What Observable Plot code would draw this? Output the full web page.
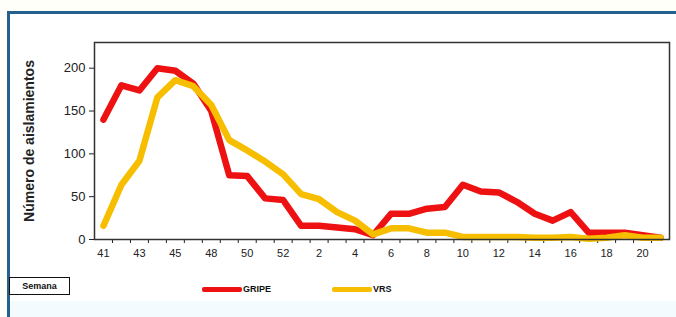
<!DOCTYPE html>
<html>
<head>
<meta charset="utf-8">
<script src="https://cdn.jsdelivr.net/npm/d3@7"></script>
<script src="https://cdn.jsdelivr.net/npm/@observablehq/plot@0.6"></script>
<style>
  html, body { margin: 0; padding: 0; }
  body { width: 676px; height: 317px; position: relative; overflow: hidden; background: #fffffa; font-family: "Liberation Sans", Arial, sans-serif; }
  #panel { position: absolute; left: 7px; top: 11px; width: 669px; height: 306px; background: #ffffff; border-left: 3px solid #24618f; border-top: 3px solid #24618f; box-sizing: border-box; }
  #band { position: absolute; left: 10px; top: 301px; width: 666px; height: 16px; background: #f3fbfe; }
  #chart { position: absolute; left: 0; top: 0; }
  #semana { position: absolute; left: 9px; top: 277px; width: 61px; height: 18px; border: 1px solid #111; box-sizing: border-box; font-size: 9px; font-weight: bold; line-height: 16px; text-align: center; color: #111; background: #fff; }
  .leg { position: absolute; top: 283px; height: 12px; display: flex; align-items: center; font-size: 9px; font-weight: bold; color: #111; }
  .leg span.sw { display: inline-block; width: 40px; height: 5px; margin-right: 1px; border-radius: 2px; }
</style>
</head>
<body>
<div id="panel"></div>
<div id="band"></div>
<div id="chart"></div>
<div id="semana">Semana</div>
<div id="legend"></div>
<script>
// Epidemiological weeks (week 47 is absent in the source axis)
const weeks = [41, 42, 43, 44, 45, 46, 48, 49, 50, 51, 52,
  1, 2, 3, 4, 5, 6, 7, 8, 9, 10, 11, 12, 13, 14, 15, 16, 17, 18, 19, 20, 21];
const gripe = [140, 180, 174, 200, 197, 182, 150, 75, 74, 48, 46,
  16, 16, 14, 12, 5, 30, 30, 36, 38, 64, 56, 55, 44, 30, 22, 32, 8, 8, 8, 5, 2];
const vrs = [16, 64, 92, 166, 186, 179, 157, 116, 104, 91, 76,
  53, 47, 32, 22, 6, 13, 13, 8, 8, 3, 3, 3, 3, 2, 2, 3, 1, 2, 5, 2, 2];
const seriesNames = ["GRIPE", "VRS"];
const seriesColors = ["#ee1111", "#f7be00"];
const yTicks = [0, 50, 100, 150, 200];
const yLabel = "Número de aislamientos";
const xTitle = "Semana";

const rows = [];
[gripe, vrs].forEach((vals, s) => vals.forEach((v, i) => rows.push({i, week: weeks[i], value: v, series: seriesNames[s]})));

const labelIdx = weeks.map((w, i) => i).filter(i => i % 2 === 0);
const boundaries = d3.range(1, weeks.length).map(k => k - 0.5);

const chart = Plot.plot({
  width: 676,
  height: 270,
  marginLeft: 94,
  marginRight: 7,
  marginTop: 42,
  marginBottom: 31,
  style: {fontFamily: "'Liberation Sans', Arial, sans-serif", background: "transparent", color: "#222"},
  x: {domain: [-0.5, weeks.length - 0.5]},
  y: {domain: [0, 230]},
  color: {domain: seriesNames, range: seriesColors},
  marks: [
    Plot.axisY({ticks: yTicks, tickSize: 5, tickPadding: 4, fontSize: 13, label: null}),
    Plot.axisX({ticks: labelIdx, tickFormat: i => String(weeks[i]), tickSize: 0, tickPadding: 10, fontSize: 11, label: null}),
    Plot.axisX({ticks: boundaries, tickFormat: () => "", tickSize: 4, label: null}),
    Plot.text([yLabel], {frameAnchor: "left", rotate: -90, dx: -61, textAnchor: "middle", lineAnchor: "bottom", fontSize: 14, fontWeight: "bold", fill: "#222"}),
    Plot.line(rows.filter(d => d.series === "GRIPE"), {x: "i", y: "value", stroke: "series", strokeWidth: 6.5, strokeLinejoin: "round", strokeLinecap: "round"}),
    Plot.line(rows.filter(d => d.series === "VRS"), {x: "i", y: "value", stroke: "series", strokeWidth: 6.5, strokeLinejoin: "round", strokeLinecap: "round"}),
    Plot.frame({stroke: "#333", strokeWidth: 1.5})
  ]
});
document.getElementById("chart").appendChild(chart);

const legend = document.getElementById("legend");
const legLefts = [202, 332];
seriesNames.forEach((name, k) => {
  const el = document.createElement("div");
  el.className = "leg";
  el.style.left = legLefts[k] + "px";
  el.innerHTML = `<span class="sw" style="background:${seriesColors[k]}"></span>${name}`;
  legend.appendChild(el);
});
document.getElementById("semana").textContent = xTitle;
</script>
</body>
</html>
